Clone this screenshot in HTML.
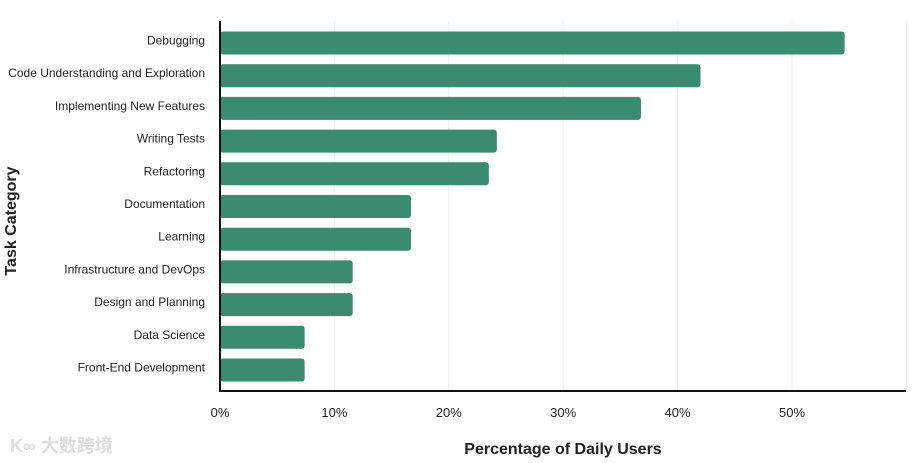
<!DOCTYPE html>
<html><head><meta charset="utf-8"><style>
body{margin:0;background:#fff;width:912px;height:463px;overflow:hidden}
svg{display:block;font-family:"Liberation Sans","Noto Sans CJK SC",sans-serif}
</style></head><body>
<svg id="chart" width="912" height="463">
<g id="grid"></g><g id="bars"></g><g id="ylabels"></g><g id="xticks"></g>
<line x1="220" y1="21" x2="220" y2="391" stroke="#111" stroke-width="2"/>
<line x1="219" y1="391" x2="906" y2="391" stroke="#111" stroke-width="2"/>
<text x="563" y="454" text-anchor="middle" font-size="16" font-weight="bold" fill="#222">Percentage of Daily Users</text>
<text transform="translate(16,221) rotate(-90)" text-anchor="middle" font-size="16" font-weight="bold" fill="#222">Task Category</text>
<text x="10" y="452" font-size="18" font-weight="bold" fill="#ddd">K∞ 大数跨境</text>
</svg>
<script>
const categories=["Debugging","Code Understanding and Exploration","Implementing New Features","Writing Tests","Refactoring","Documentation","Learning","Infrastructure and DevOps","Design and Planning","Data Science","Front-End Development"];
const values=[54.6,42,36.8,24.2,23.5,16.7,16.7,11.6,11.6,7.4,7.4];
const tickValues=[0,10,20,30,40,50];
const tickLabels=["0%","10%","20%","30%","40%","50%"];
const NS="http://www.w3.org/2000/svg";
const x=v=>220+v*11.44;
const yc=i=>43+i*32.7;
function mk(t,a,p){const e=document.createElementNS(NS,t);for(const k in a)e.setAttribute(k,a[k]);p.appendChild(e);return e;}
const grid=document.getElementById('grid'),bars=document.getElementById('bars'),yl=document.getElementById('ylabels'),xt=document.getElementById('xticks');
tickValues.forEach((v,i)=>{
 if(v>0){const g=mk('line',{x1:x(v),x2:x(v),y1:21,y2:391,stroke:'#eee','stroke-width':1},grid);
 
 }
 const t=mk('text',{x:x(v),y:417,'text-anchor':'middle','font-size':13,fill:'#222'},xt);
 t.textContent=tickLabels[i];
 
 
});
const g2=mk('line',{x1:x(60),x2:x(60),y1:21,y2:391,stroke:'#eee'},grid);


categories.forEach((c,i)=>{
 const r=mk('rect',{x:220,y:yc(i)-11.5,width:x(values[i])-220,height:23,rx:3,fill:'#3a8b70'},bars);
 
 
 const t=mk('text',{x:205,y:yc(i)+1.5,'text-anchor':'end','font-size':12,fill:'#222'},yl);
 t.textContent=c;
 
 
});
</script>
</body></html>
